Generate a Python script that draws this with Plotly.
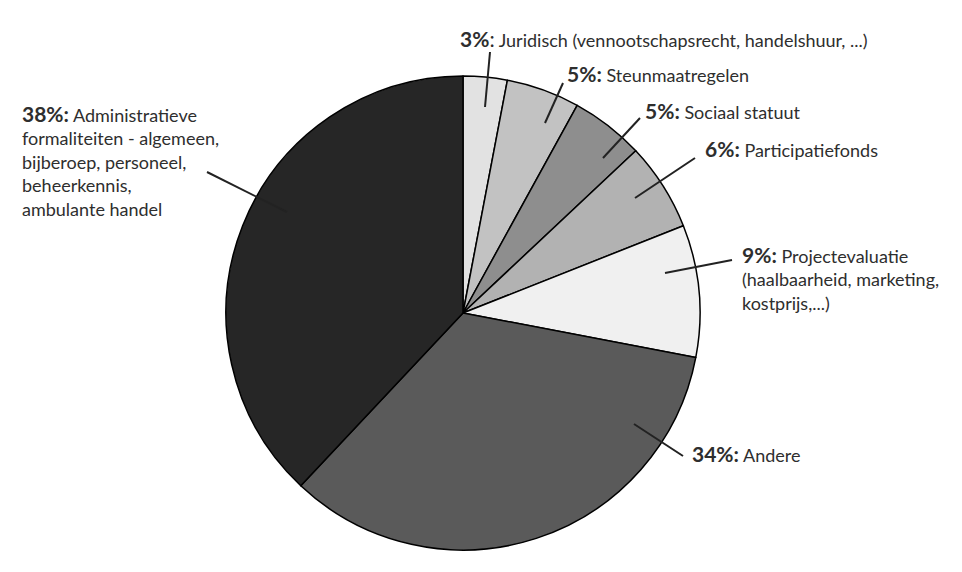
import plotly.graph_objects as go

W, H = 962, 572
OFF = 8  # page body margin offset

labels = [
    "Juridisch (vennootschapsrecht, handelshuur, ...)",
    "Steunmaatregelen",
    "Sociaal statuut",
    "Participatiefonds",
    "Projectevaluatie<br>(haalbaarheid, marketing,<br>kostprijs,...)",
    "Andere",
    "Administratieve<br>formaliteiten - algemeen,<br>bijberoep, personeel,<br>beheerkennis,<br>ambulante handel",
]
values = [3, 5, 5, 6, 9, 34, 38]
colors = ["#e2e2e2", "#c2c2c2", "#8e8e8e", "#b2b2b2", "#f0f0f0", "#5a5a5a", "#262626"]
bold_colon = [False, True, True, True, True, True, True]

# label placement (pixels): left x, y, yanchor
label_pos = [
    (458, 38, "middle"),
    (565, 73, "middle"),
    (643, 110, "middle"),
    (703, 148, "middle"),
    (740, 240, "top"),
    (690, 453, "middle"),
    (20, 99, "top"),
]
# leader lines (pixels)
leaders = [
    ((485, 107), (490, 52)),
    ((545, 123), (563, 83)),
    ((603, 158), (640, 118)),
    ((635, 198), (695, 158)),
    ((665, 273), (732, 260)),
    ((634, 424), (683, 456)),
    ((207, 172), (287, 212)),
]

cx, cy, r = 463 - OFF, 313 - OFF, 237


def px(x):
    return (x - OFF) / W


def py(y):
    return 1 - (y - OFF) / H


fig = go.Figure(go.Pie(
    labels=[l.split("<br>")[0] for l in labels],
    values=values,
    sort=False,
    direction="clockwise",
    rotation=0,
    textinfo="none",
    hoverinfo="label+percent",
    marker=dict(colors=colors, line=dict(color="#000000", width=1.5)),
    domain=dict(x=[(cx - r) / W, (cx + r) / W], y=[1 - (cy + r) / H, 1 - (cy - r) / H]),
    showlegend=False,
))

annotations = []
for lab, v, bc, (x, y, ya) in zip(labels, values, bold_colon, label_pos):
    pct = f"<b>{v}%:</b>" if bc else f"<b>{v}%</b>:"
    annotations.append(dict(
        x=px(x), y=py(y), xref="paper", yref="paper",
        xanchor="left", yanchor=ya, align="left", showarrow=False,
        text=f"<span style='font-size:21px'>{pct}</span> {lab}",
    ))

shapes = []
for (x0, y0), (x1, y1) in leaders:
    shapes.append(dict(type="line", xref="paper", yref="paper",
                       x0=px(x0), y0=py(y0), x1=px(x1), y1=py(y1),
                       line=dict(color="#222222", width=2)))

fig.update_layout(
    width=W, height=H,
    margin=dict(l=0, r=0, t=0, b=0),
    paper_bgcolor="white",
    plot_bgcolor="white",
    font=dict(family="Lato, 'Open Sans', sans-serif", size=18, color="#2e2e2e"),
    annotations=annotations,
    shapes=shapes,
)

fig.write_html("out.html")
